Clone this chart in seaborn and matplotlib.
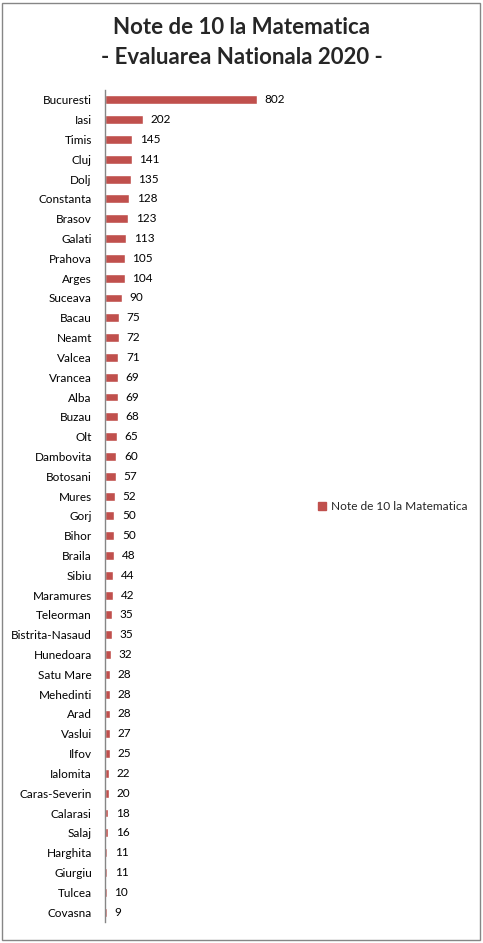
import matplotlib
matplotlib.use("Agg")
import matplotlib.pyplot as plt
import matplotlib.patches as mpatches
import numpy as np
import pandas as pd
import seaborn as sns

judete = [
    "Bucuresti", "Iasi", "Timis", "Cluj", "Dolj", "Constanta", "Brasov", "Galati",
    "Prahova", "Arges", "Suceava", "Bacau", "Neamt", "Valcea", "Vrancea", "Alba",
    "Buzau", "Olt", "Dambovita", "Botosani", "Mures", "Gorj", "Bihor", "Braila",
    "Sibiu", "Maramures", "Teleorman", "Bistrita-Nasaud", "Hunedoara", "Satu Mare",
    "Mehedinti", "Arad", "Vaslui", "Ilfov", "Ialomita", "Caras-Severin", "Calarasi",
    "Salaj", "Harghita", "Giurgiu", "Tulcea", "Covasna",
]
note_10 = [
    802, 202, 145, 141, 135, 128, 123, 113, 105, 104, 90, 75, 72, 71, 69, 69,
    68, 65, 60, 57, 52, 50, 50, 48, 44, 42, 35, 35, 32, 28, 28, 28, 27, 25,
    22, 20, 18, 16, 11, 11, 10, 9,
]
serie = "Note de 10 la Matematica"
titlu = "Note de 10 la Matematica\n- Evaluarea Nationala 2020 -"

df = pd.DataFrame({"Judet": judete, "Note": note_10})

sns.set_style("white")
plt.rcParams["font.family"] = ["Lato", "DejaVu Sans"]

bar_color = "#C0504D"

fig = plt.figure(figsize=(4.83, 9.43), dpi=100)
ax = fig.add_axes([0.2174, 0.0223, 0.352, 0.8823])

sns.barplot(data=df, x="Note", y="Judet", color=bar_color, width=0.45,
            saturation=1, ax=ax, orient="h")

ax.set_xlim(0, 900)
ax.set_ylim(len(judete) - 0.5, -0.5)
ax.set_xlabel("")
ax.set_ylabel("")
ax.set_xticks([])

for s in ["top", "right", "bottom"]:
    ax.spines[s].set_visible(False)
ax.spines["left"].set_color("#868686")
ax.spines["left"].set_linewidth(1)

# nume judete, cu liniute intre categorii
ax.tick_params(axis="y", which="major", length=0, pad=9.5, labelsize=8.5,
               labelcolor="black")
ax.set_yticks(np.arange(-0.5, len(judete)), minor=True)
ax.tick_params(axis="y", which="minor", length=4, width=1, color="#868686",
               direction="out")

# etichete cu valori
for i, v in enumerate(note_10):
    ax.text(v + 40, i, str(v), va="center", ha="left", fontsize=8.5,
            color="black")

fig.suptitle(titlu, x=0.5, y=0.982, fontsize=16, fontweight="bold",
             linespacing=1.55)

handle = mpatches.Patch(color=bar_color, label=serie)
fig.legend(handles=[handle], loc="center left", bbox_to_anchor=(0.637, 0.463),
           frameon=False, fontsize=8.6, handlelength=0.65, handleheight=0.65,
           handletextpad=0.4)

fig.patches.append(mpatches.Rectangle((0.004, 0.003), 0.99, 0.994,
                                      transform=fig.transFigure, fill=False,
                                      edgecolor="#868686", linewidth=1))

fig.savefig("out.png", dpi=100)
